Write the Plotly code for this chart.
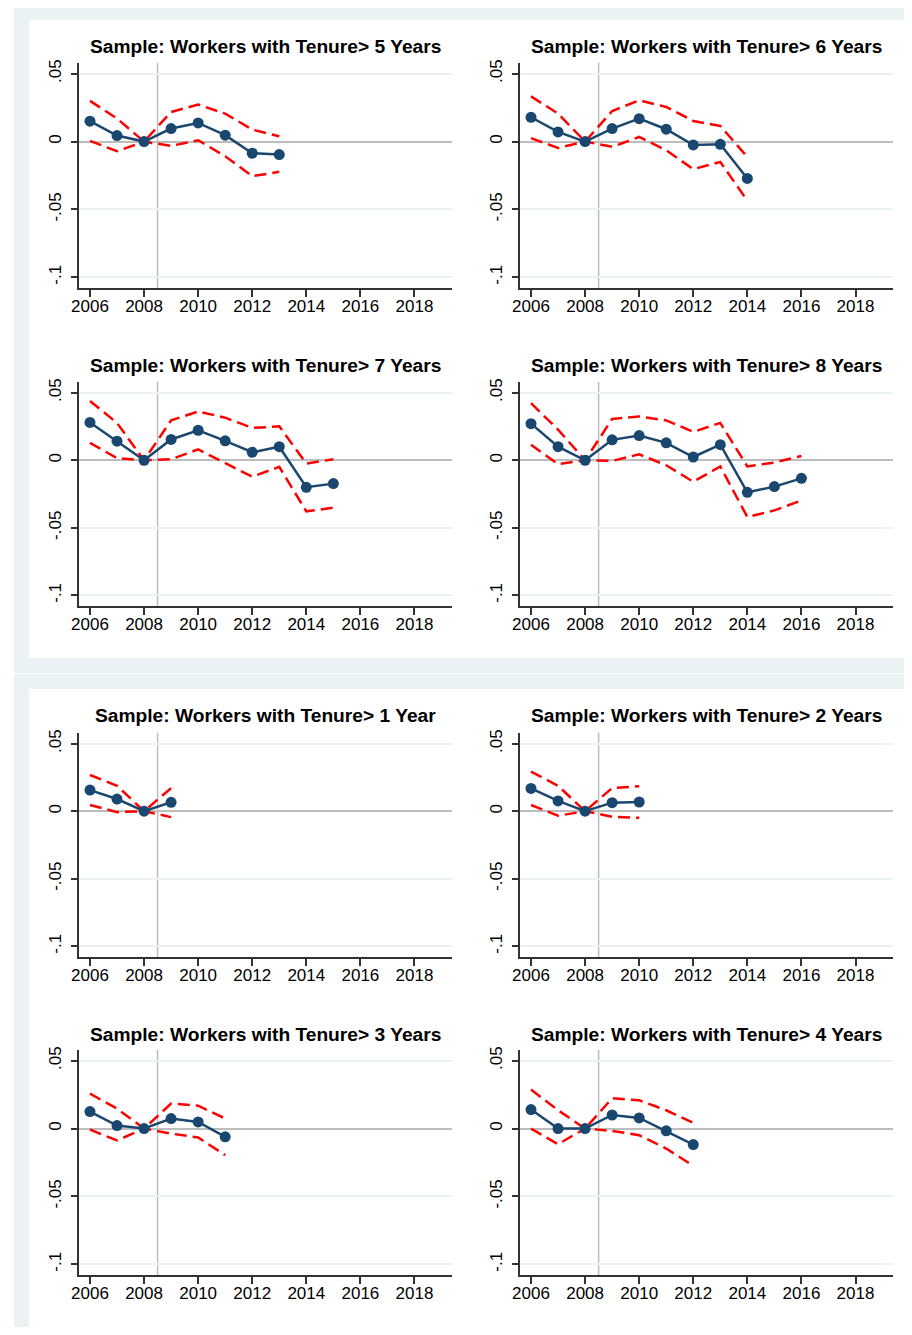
import plotly.graph_objects as go

# The HTML body keeps its default 8px margin, so the figure is made 16px smaller
# than the 912x1335 window and every reference pixel position is shifted by OFF.
PAGE_W, PAGE_H = 912, 1335
OFF = 8
W, H = PAGE_W - 2 * OFF, PAGE_H - 2 * OFF

# ---------------- data ----------------
x_ticks = [2006, 2008, 2010, 2012, 2014, 2016, 2018]
x_tick_labels = ["2006", "2008", "2010", "2012", "2014", "2016", "2018"]
y_ticks = [-0.1, -0.05, 0, 0.05]
y_tick_labels = ["-.1", "-.05", "0", ".05"]
event_year = 2008.5

titles = [
    "Sample: Workers with Tenure> 5 Years",
    "Sample: Workers with Tenure> 6 Years",
    "Sample: Workers with Tenure> 7 Years",
    "Sample: Workers with Tenure> 8 Years",
    "Sample: Workers with Tenure> 1 Year",
    "Sample: Workers with Tenure> 2 Years",
    "Sample: Workers with Tenure> 3 Years",
    "Sample: Workers with Tenure> 4 Years",
]

years_t5 = [2006, 2007, 2008, 2009, 2010, 2011, 2012, 2013]
est_t5 = [0.0150, 0.0044, 0.0, 0.0096, 0.0137, 0.0047, -0.0086, -0.0096]
hi_t5 = [0.0300, 0.0170, 0.0, 0.0218, 0.0272, 0.0206, 0.0088, 0.0039]
lo_t5 = [0.0005, -0.0071, 0.0, -0.0032, 0.0010, -0.0108, -0.0255, -0.0223]

years_t6 = [2006, 2007, 2008, 2009, 2010, 2011, 2012, 2013, 2014]
est_t6 = [0.0179, 0.0071, 0.0, 0.0096, 0.0169, 0.0091, -0.0025, -0.0020, -0.0272]
hi_t6 = [0.0333, 0.0206, 0.0, 0.0225, 0.0304, 0.0255, 0.0152, 0.0115, -0.0113]
lo_t6 = [0.0025, -0.0047, 0.0, -0.0039, 0.0034, -0.0064, -0.0203, -0.0150, -0.0436]

years_t7 = [2006, 2007, 2008, 2009, 2010, 2011, 2012, 2013, 2014, 2015]
est_t7 = [0.0280, 0.0141, 0.0, 0.0154, 0.0222, 0.0144, 0.0059, 0.0100, -0.0200, -0.0173]
hi_t7 = [0.0439, 0.0276, 0.0, 0.0295, 0.0361, 0.0315, 0.0239, 0.0251, -0.0024, 0.0007]
lo_t7 = [0.0129, 0.0015, 0.0, 0.0007, 0.0080, -0.0024, -0.0122, -0.0049, -0.0378, -0.0351]

years_t8 = [2006, 2007, 2008, 2009, 2010, 2011, 2012, 2013, 2014, 2015, 2016]
est_t8 = [0.0271, 0.0100, 0.0, 0.0151, 0.0183, 0.0129, 0.0024, 0.0115, -0.0237, -0.0195, -0.0134]
hi_t8 = [0.0422, 0.0227, 0.0, 0.0305, 0.0324, 0.0295, 0.0210, 0.0276, -0.0046, -0.0017, 0.0032]
lo_t8 = [0.0115, -0.0029, 0.0, -0.0005, 0.0044, -0.0037, -0.0159, -0.0046, -0.0420, -0.0371, -0.0298]

years_t1 = [2006, 2007, 2008, 2009]
est_t1 = [0.0156, 0.0090, 0.0, 0.0066]
hi_t1 = [0.0268, 0.0188, 0.0, 0.0171]
lo_t1 = [0.0046, -0.0007, 0.0, -0.0044]

years_t2 = [2006, 2007, 2008, 2009, 2010]
est_t2 = [0.0168, 0.0076, 0.0, 0.0063, 0.0068]
hi_t2 = [0.0293, 0.0188, 0.0, 0.0171, 0.0185]
lo_t2 = [0.0046, -0.0034, 0.0, -0.0041, -0.0049]

years_t3 = [2006, 2007, 2008, 2009, 2010, 2011]
est_t3 = [0.0125, 0.0022, 0.0, 0.0074, 0.0049, -0.0061]
hi_t3 = [0.0257, 0.0147, 0.0, 0.0184, 0.0169, 0.0074]
lo_t3 = [-0.0007, -0.0088, 0.0, -0.0037, -0.0066, -0.0196]

years_t4 = [2006, 2007, 2008, 2009, 2010, 2011, 2012]
est_t4 = [0.0140, 0.0, 0.0, 0.0100, 0.0078, -0.0017, -0.0118]
hi_t4 = [0.0287, 0.0135, 0.0, 0.0223, 0.0208, 0.0135, 0.0042]
lo_t4 = [0.0, -0.0115, 0.0, -0.0017, -0.0049, -0.0147, -0.0275]

panels = [
    (years_t5, est_t5, hi_t5, lo_t5),
    (years_t6, est_t6, hi_t6, lo_t6),
    (years_t7, est_t7, hi_t7, lo_t7),
    (years_t8, est_t8, hi_t8, lo_t8),
    (years_t1, est_t1, hi_t1, lo_t1),
    (years_t2, est_t2, hi_t2, lo_t2),
    (years_t3, est_t3, hi_t3, lo_t3),
    (years_t4, est_t4, hi_t4, lo_t4),
]

# ---------------- layout geometry (pixels in the window) ----------------
cols_px = [(72, 448), (517, 893)]
rows_px = [(59, 285), (379, 604), (731, 956), (1049, 1275)]
title_y_px = [43, 363, 714, 1034]

NAVY = "#1a476f"
RED = "#ff0000"
BG = "#eaf2f3"
AXIS = "#333333"
FONT = "Liberation Sans, Arial, sans-serif"

def fx(px):
    return (px - OFF) / W

def fy(px):
    return 1 - (px - OFF) / H

fig = go.Figure()
layout = dict(
    width=W, height=H,
    margin=dict(l=0, r=0, t=0, b=0),
    paper_bgcolor="white",
    plot_bgcolor="rgba(0,0,0,0)",
    showlegend=False,
    font=dict(family=FONT, color="black"),
)

shapes = [
    # top panel
    dict(type="rect", xref="paper", yref="paper", x0=fx(6), x1=fx(912), y0=fy(671), y1=fy(2),
         fillcolor=BG, line=dict(width=0), layer="below"),
    dict(type="rect", xref="paper", yref="paper", x0=fx(21), x1=fx(911), y0=fy(656), y1=fy(16),
         fillcolor="white", line=dict(width=0), layer="below"),
    # bottom panel
    dict(type="rect", xref="paper", yref="paper", x0=fx(6), x1=fx(912), y0=fy(1335), y1=fy(672),
         fillcolor=BG, line=dict(width=0), layer="below"),
    dict(type="rect", xref="paper", yref="paper", x0=fx(21), x1=fx(911), y0=fy(1327), y1=fy(687),
         fillcolor="white", line=dict(width=0), layer="below"),
]
annotations = []

for i, (yrs, est, hi, lo) in enumerate(panels):
    r, c = divmod(i, 2)
    n = i + 1
    xa = "x" if n == 1 else f"x{n}"
    ya = "y" if n == 1 else f"y{n}"
    xkey = "xaxis" if n == 1 else f"xaxis{n}"
    ykey = "yaxis" if n == 1 else f"yaxis{n}"
    x0, x1 = cols_px[c]
    top, bot = rows_px[r]

    layout[xkey] = dict(
        domain=[fx(x0), fx(x1)], anchor=ya, range=[2005.61, 2019.39],
        tickvals=x_ticks, ticktext=x_tick_labels, showgrid=False, zeroline=False,
        showline=True, linecolor=AXIS, linewidth=1.5,
        ticks="outside", ticklen=7, tickwidth=1.5, tickcolor=AXIS,
        ticklabelstandoff=-5,
        tickfont=dict(size=17, family=FONT, color="black"),
    )
    layout[ykey] = dict(
        domain=[fy(bot), fy(top)], anchor=xa, range=[-0.108, 0.058],
        tickvals=y_ticks, ticktext=y_tick_labels, tickangle=-90,
        showgrid=True, gridcolor=BG, gridwidth=1.5,
        zeroline=True, zerolinecolor="#bdbdbd", zerolinewidth=1.5,
        showline=True, linecolor=AXIS, linewidth=1.5,
        ticks="outside", ticklen=7, tickwidth=1.5, tickcolor=AXIS,
        ticklabelstandoff=3,
        tickfont=dict(size=17, family=FONT, color="black"),
    )

    shapes.append(dict(type="line", xref=xa, yref="paper", x0=event_year, x1=event_year,
                       y0=fy(bot), y1=fy(top), line=dict(color="#bdbdbd", width=1.5), layer="below"))

    fig.add_trace(go.Scatter(x=yrs, y=hi, mode="lines", xaxis=xa, yaxis=ya,
                             line=dict(color=RED, width=2.5, dash="12px,6px"), hoverinfo="skip"))
    fig.add_trace(go.Scatter(x=yrs, y=lo, mode="lines", xaxis=xa, yaxis=ya,
                             line=dict(color=RED, width=2.5, dash="12px,6px"), hoverinfo="skip"))
    fig.add_trace(go.Scatter(x=yrs, y=est, mode="lines+markers", xaxis=xa, yaxis=ya,
                             line=dict(color=NAVY, width=2.5),
                             marker=dict(color=NAVY, size=11)))

    annotations.append(dict(
        text=f"<b>{titles[i]}</b>", xref="paper", yref="paper",
        x=fx((x0 + x1) / 2), y=fy(title_y_px[r]), xanchor="center", yanchor="middle",
        showarrow=False, font=dict(size=19.2, family=FONT, color="black"),
    ))

layout["shapes"] = shapes
layout["annotations"] = annotations
fig.update_layout(**layout)

fig.write_html("out.html", config={"displayModeBar": False})
